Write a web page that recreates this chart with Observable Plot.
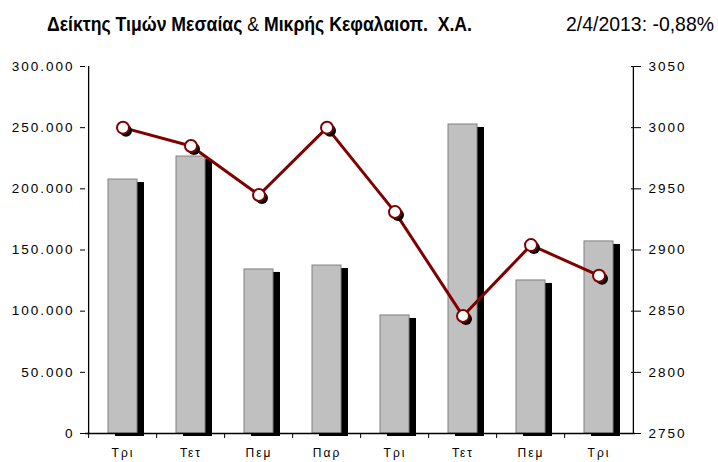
<!DOCTYPE html>
<html><head><meta charset="utf-8">
<script src="https://cdn.jsdelivr.net/npm/d3@7"></script>
<script src="https://cdn.jsdelivr.net/npm/@observablehq/plot@0.6"></script>
<style>
body{margin:0;background:#fff;}
#wrap{position:relative;width:718px;height:462px;overflow:hidden;}
.hdr{position:absolute;top:13px;line-height:21px;font-size:21px;font-family:"Liberation Sans Narrow","Arial Narrow","Liberation Sans",Arial,sans-serif;white-space:nowrap;transform-origin:0 0;}
#title{left:47px;font-weight:bold;}
#title .amp{font-weight:normal;}
#date{left:566px;}
#chart{position:absolute;left:0;top:0;}
</style></head>
<body>
<div id="wrap">
<div id="chart"></div>
<div id="title" class="hdr">Δείκτης Τιμών Μεσαίας <span class="amp">&amp;</span> Μικρής Κεφαλαιοπ.&nbsp; Χ.Α.</div>
<div id="date" class="hdr">2/4/2013: -0,88%</div>
</div>
<script>
const days = ["Τρι","Τετ","Πεμ","Παρ","Τρι","Τετ","Πεμ","Τρι"];
const volume = [207600, 226400, 134100, 137300, 96500, 252600, 125100, 157000];
const indexValues = [3000, 2985, 2945, 3000, 2931, 2846, 2904, 2879];
const leftTicks = [0, 50000, 100000, 150000, 200000, 250000, 300000];
const rightTicks = [2750, 2800, 2850, 2900, 2950, 3000, 3050];

const leftDomain = [0, 300000];
const rightDomain = [2750, 3050];
const toLeft = v => (v - rightDomain[0]) / (rightDomain[1] - rightDomain[0]) * (leftDomain[1] - leftDomain[0]) + leftDomain[0];
const fromLeft = v => String(Math.round((v - leftDomain[0]) / (leftDomain[1] - leftDomain[0]) * (rightDomain[1] - rightDomain[0]) + rightDomain[0]));

const data = days.map((d, i) => ({i, day: d, vol: volume[i], idx: indexValues[i], idxL: toLeft(indexValues[i])}));
const W = 718, H = 462, mL = 85, mR = 83, mT = 66, mB = 29;
const step = (W - mL - mR) / days.length;
const fmt = d => d3.format(",")(d).replace(/,/g, ".");
const ids = d3.range(days.length);
const pad = 0.58;

const chart = Plot.plot({
  width: W, height: H, marginLeft: mL, marginRight: mR, marginTop: mT, marginBottom: mB,
  style: {fontFamily: "'Liberation Sans', Arial, sans-serif", fontSize: "13.5px", background: "white", color: "black", letterSpacing: "2px"},
  x: {type: "band", domain: ids, paddingInner: pad, paddingOuter: pad / 2, axis: null},
  y: {domain: leftDomain, axis: null},
  marks: [
    Plot.barY(data, {x: "i", y: "vol", fill: "black", dx: 7, dy: 3}),
    Plot.barY(data, {x: "i", y: "vol", fill: "#c0c0c0", stroke: "#808080", strokeWidth: 1}),
    Plot.ruleX([ids[0]], {x: d => d, y1: leftDomain[0], y2: leftDomain[1], dx: -step / 2, stroke: "black", strokeWidth: 1.3}),
    Plot.ruleX([ids[ids.length - 1]], {x: d => d, y1: leftDomain[0], y2: leftDomain[1], dx: step / 2, stroke: "black", strokeWidth: 1.3}),
    Plot.axisY({anchor: "left", ticks: leftTicks, tickFormat: fmt, tickSize: 5, tickPadding: 6, label: null, strokeOpacity: 1}),
    Plot.axisY({anchor: "right", ticks: rightTicks.map(toLeft), tickFormat: fromLeft, tickSize: 5, tickPadding: 8, label: null, strokeOpacity: 1}),
    Plot.axisY({anchor: "right", ticks: rightTicks.map(toLeft), tickFormat: () => "", tickSize: 5, dx: -5, label: null, strokeOpacity: 1}),
    Plot.ruleY([0], {stroke: "black", strokeWidth: 1.3}),
    Plot.axisX({ticks: ids, tickFormat: i => days[i], tickSize: 0, tickPadding: 15, label: null, fontSize: 12, style: {letterSpacing: "2.5px"}}),
    Plot.axisX({ticks: ids, tickFormat: () => "", tickSize: 5, dx: -step / 2, label: null, strokeOpacity: 1}),
    Plot.line(data, {x: "i", y: "idxL", stroke: "#800000", strokeWidth: 3}),
    Plot.dot(data, {x: "i", y: "idxL", r: 6, fill: "black", dx: 3, dy: 3}),
    Plot.dot(data, {x: "i", y: "idxL", r: 6, fill: "white", stroke: "#800000", strokeWidth: 2})
  ]
});
document.getElementById("chart").appendChild(chart);

// condense header texts to the reference widths
function fit(id, target) {
  const el = document.getElementById(id);
  const w = el.getBoundingClientRect().width;
  if (w > 0) el.style.transform = `scaleX(${target / w})`;
}
fit("title", 425);
fit("date", 148);
</script>
</body></html>
